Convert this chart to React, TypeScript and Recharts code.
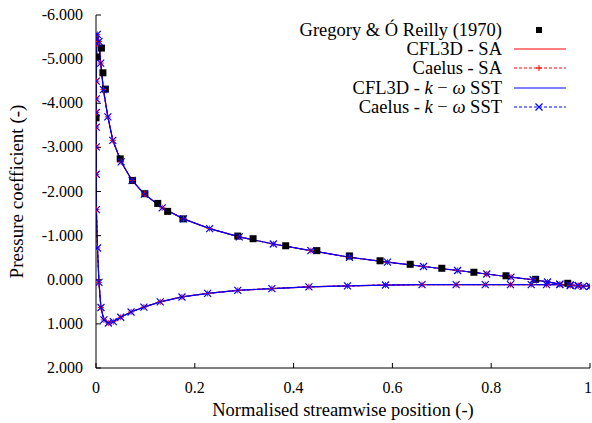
import { ComposedChart, Line, Scatter, XAxis, YAxis } from 'recharts'

const xTicks = [0, 0.2, 0.4, 0.6, 0.8, 1]
const cpTicks = [-6, -5, -4, -3, -2, -1, 0, 1, 2]

// Gregory & O'Reilly (1970) experiment
const expX = [0.0, 0.001, 0.011, 0.014, 0.019, 0.049, 0.074, 0.099, 0.125, 0.145, 0.176, 0.287, 0.318, 0.384, 0.447, 0.513, 0.575, 0.636, 0.7, 0.765, 0.83, 0.89, 0.955]
const expCp = [-3.67, -5.05, -5.25, -4.69, -4.32, -2.74, -2.25, -1.95, -1.73, -1.55, -1.38, -0.99, -0.93, -0.77, -0.66, -0.54, -0.43, -0.35, -0.26, -0.17, -0.09, -0.01, 0.08]

// lower surface, trailing edge -> nose
const lowerX = [1.0, 0.976, 0.96, 0.939, 0.912, 0.881, 0.839, 0.788, 0.729, 0.66, 0.586, 0.509, 0.431, 0.356, 0.287, 0.226, 0.174, 0.13, 0.097, 0.071, 0.05, 0.035, 0.025, 0.016, 0.01, 0.006, 0.003, 0.0008, 0.0006, 0.0006, 0.0006, 0.0006, 0.0006, 0.0006]
const lowerCp = [0.15, 0.13, 0.12, 0.11, 0.11, 0.11, 0.11, 0.11, 0.11, 0.11, 0.12, 0.14, 0.16, 0.2, 0.24, 0.31, 0.39, 0.5, 0.62, 0.73, 0.85, 0.95, 0.98, 0.91, 0.63, 0.06, -0.72, -1.59, -2.39, -3.01, -3.46, -3.79, -4.1, -4.5]

// upper surface, nose -> trailing edge
const upperX = [0.0014, 0.0026, 0.006, 0.0095, 0.015, 0.024, 0.034, 0.051, 0.073, 0.098, 0.134, 0.177, 0.23, 0.29, 0.359, 0.435, 0.513, 0.59, 0.663, 0.732, 0.791, 0.84, 0.885, 0.914, 0.939, 0.96, 0.976, 0.986, 1.0]
const upperCp = [-5.35, -5.56, -5.4, -4.91, -4.31, -3.69, -3.16, -2.67, -2.25, -1.94, -1.63, -1.38, -1.16, -0.97, -0.81, -0.66, -0.51, -0.4, -0.3, -0.21, -0.13, -0.06, 0.0, 0.05, 0.1, 0.13, 0.14, 0.15, 0.15]

const toPoints = (xs: number[], cps: number[]) => xs.map((x, i) => ({ x, cp: cps[i] }))

const experiment = toPoints(expX, expCp)
const surface = [...toPoints(lowerX, lowerCp), ...toPoints(upperX, upperCp)]
const cfl3dSA = surface
const caelusSA = surface
const cfl3dSST = surface
const caelusSST = surface

const RED = '#ff0000'
const BLUE = '#0000ff'
const SERIF = 'serif'

const plusDot = (p: any) => (
  <path
    key={`p${p.index}`}
    d={`M${p.cx - 3},${p.cy}H${p.cx + 3}M${p.cx},${p.cy - 3}V${p.cy + 3}`}
    stroke={RED}
    strokeWidth={1}
    fill="none"
  />
)

const crossDot = (p: any) => (
  <path
    key={`c${p.index}`}
    d={`M${p.cx - 3.5},${p.cy - 3.5}L${p.cx + 3.5},${p.cy + 3.5}M${p.cx - 3.5},${p.cy + 3.5}L${p.cx + 3.5},${p.cy - 3.5}`}
    stroke={BLUE}
    strokeWidth={1.2}
    fill="none"
  />
)

const square = (p: any) => <rect x={p.cx - 3.5} y={p.cy - 3.5} width={7} height={7} fill="#000" />

const blank = () => ''

const xTick = (p: any) => (
  <text x={p.x} y={p.y} dy={12} textAnchor="middle" fontFamily={SERIF} fontSize={16} fill="#000">
    {String(p.payload.value)}
  </text>
)
const yTick = (p: any) => (
  <text x={p.x} y={p.y} dy={5} textAnchor="end" fontFamily={SERIF} fontSize={16} fill="#000">
    {Number(p.payload.value).toFixed(3)}
  </text>
)

const xTitle = (p: any) => {
  const vb = p.viewBox
  return (
    <text x={vb.x + vb.width / 2} y={vb.y + vb.height - 7} textAnchor="middle" fontFamily={SERIF} fontSize={18.5} fill="#000">
      Normalised streamwise position (-)
    </text>
  )
}
const yTitle = (p: any) => {
  const vb = p.viewBox
  const cx = 23
  const cy = vb.y + vb.height / 2
  return (
    <text x={cx} y={cy} transform={`rotate(-90 ${cx} ${cy})`} textAnchor="middle" fontFamily={SERIF} fontSize={19} fill="#000">
      Pressure coefficient (-)
    </text>
  )
}

const legendRows = [
  { label: <>Gregory &amp; Ó Reilly (1970)</>, kind: 'exp' },
  { label: <>CFL3D - SA</>, kind: 'cfl3dSA' },
  { label: <>Caelus - SA</>, kind: 'caelusSA' },
  { label: <>CFL3D - <i>k</i> − <i>ω</i> SST</>, kind: 'cfl3dSST' },
  { label: <>Caelus - <i>k</i> − <i>ω</i> SST</>, kind: 'caelusSST' },
]

function Sample({ kind }: { kind: string }) {
  return (
    <svg width={56} height={12} style={{ display: 'block' }}>
      {kind === 'exp' && <rect x={24} y={3} width={6} height={6} fill="#000" />}
      {kind === 'cfl3dSA' && <line x1={2} x2={54} y1={6} y2={6} stroke={RED} strokeWidth={1.2} />}
      {kind === 'cfl3dSST' && <line x1={2} x2={54} y1={6} y2={6} stroke={BLUE} strokeWidth={1.2} />}
      {kind === 'caelusSA' && (
        <>
          <line x1={2} x2={54} y1={6} y2={6} stroke={RED} strokeWidth={1} strokeDasharray="3 2" />
          <path d="M24,6H30M27,3V9" stroke={RED} fill="none" />
        </>
      )}
      {kind === 'caelusSST' && (
        <>
          <line x1={2} x2={54} y1={6} y2={6} stroke={BLUE} strokeWidth={1} strokeDasharray="3 2" />
          <path d="M23.5,2.5L30.5,9.5M23.5,9.5L30.5,2.5" stroke={BLUE} strokeWidth={1.2} fill="none" />
        </>
      )}
    </svg>
  )
}

export default function App() {
  return (
    <div style={{ position: 'absolute', left: 0, top: 0, width: 592, height: 423, background: '#fff' }}>
      <ComposedChart width={592} height={423} margin={{ top: 15, right: 2, bottom: 0, left: 0 }}>
        <XAxis
          type="number"
          dataKey="x"
          domain={[0, 1]}
          ticks={xTicks}
          allowDataOverflow
          height={55}
          tickSize={-5}
          tickMargin={18}
          tick={xTick}
          stroke="#000"
          label={xTitle}
        />
        <XAxis
          xAxisId="top"
          orientation="top"
          type="number"
          dataKey="x"
          domain={[0, 1]}
          ticks={xTicks}
          allowDataOverflow
          height={0}
          tickSize={-5}
          tickFormatter={blank}
          stroke="#000"
        />
        <YAxis
          type="number"
          dataKey="cp"
          domain={[-6, 2]}
          reversed
          ticks={cpTicks}
          allowDataOverflow
          width={96}
          tickSize={-5}
          tickMargin={18}
          tick={yTick}
          stroke="#000"
          label={yTitle}
        />
        <YAxis
          yAxisId="right"
          orientation="right"
          type="number"
          dataKey="cp"
          domain={[-6, 2]}
          reversed
          ticks={cpTicks}
          allowDataOverflow
          width={0}
          tickSize={-5}
          tickFormatter={blank}
          stroke="#000"
        />
        <Scatter data={experiment} dataKey="cp" shape={square} isAnimationActive={false} />
        <Line data={cfl3dSA} dataKey="cp" type="linear" stroke={RED} strokeWidth={1.2} dot={false} isAnimationActive={false} />
        <Line data={caelusSA} dataKey="cp" type="linear" stroke={RED} strokeWidth={1} strokeDasharray="3 2" dot={plusDot} isAnimationActive={false} />
        <Line data={cfl3dSST} dataKey="cp" type="linear" stroke={BLUE} strokeWidth={1.2} dot={false} isAnimationActive={false} />
        <Line data={caelusSST} dataKey="cp" type="linear" stroke={BLUE} strokeWidth={1} strokeDasharray="3 2" dot={crossDot} isAnimationActive={false} />
      </ComposedChart>
      {legendRows.map((row, i) => (
        <div key={i} style={{ position: 'absolute', top: 30 + i * 19.2 - 10, left: 0, height: 20, width: 592 }}>
          <div style={{ position: 'absolute', right: 90, top: 0, lineHeight: '20px', fontSize: 18.5, fontFamily: SERIF, whiteSpace: 'nowrap', color: '#000' }}>
            {row.label}
          </div>
          <div style={{ position: 'absolute', left: 512, top: 4 }}>
            <Sample kind={row.kind} />
          </div>
        </div>
      ))}
    </div>
  )
}
